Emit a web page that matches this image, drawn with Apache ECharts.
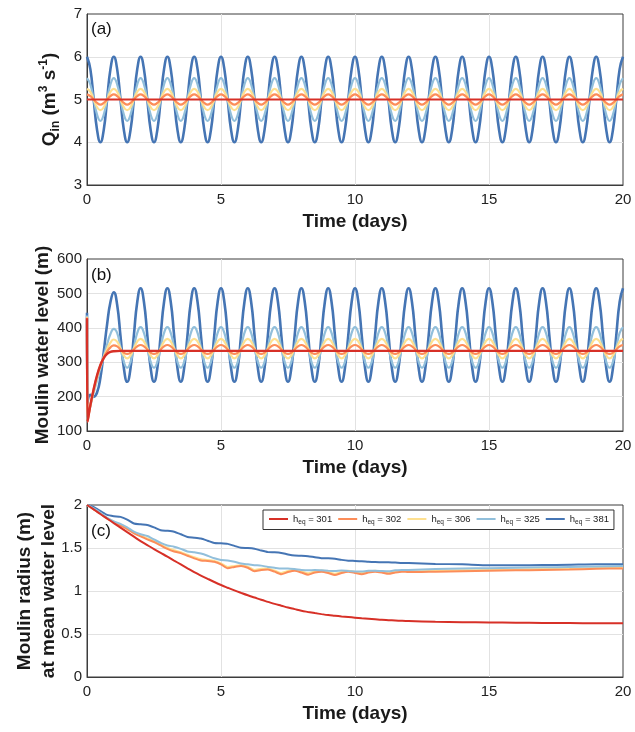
<!DOCTYPE html>
<html>
<head>
<meta charset="utf-8">
<script src="https://cdn.jsdelivr.net/npm/echarts@6/dist/echarts.min.js"></script>
<style>html,body{margin:0;padding:0;background:#fff}#c{width:635px;height:732px}</style>
</head>
<body>
<div id="c"></div>
<script>
// ---------- DATA ----------
// Panel (a): time (days) and inflow Q_in (m3/s)
const tA = [
0,0.125,0.25,0.375,0.5,0.625,0.75,0.875,
1,1.125,1.25,1.375,1.5,1.625,1.75,1.875,
2,2.125,2.25,2.375,2.5,2.625,2.75,2.875,
3,3.125,3.25,3.375,3.5,3.625,3.75,3.875,
4,4.125,4.25,4.375,4.5,4.625,4.75,4.875,
5,5.125,5.25,5.375,5.5,5.625,5.75,5.875,
6,6.125,6.25,6.375,6.5,6.625,6.75,6.875,
7,7.125,7.25,7.375,7.5,7.625,7.75,7.875,
8,8.125,8.25,8.375,8.5,8.625,8.75,8.875,
9,9.125,9.25,9.375,9.5,9.625,9.75,9.875,
10,10.125,10.25,10.375,10.5,10.625,10.75,10.875,
11,11.125,11.25,11.375,11.5,11.625,11.75,11.875,
12,12.125,12.25,12.375,12.5,12.625,12.75,12.875,
13,13.125,13.25,13.375,13.5,13.625,13.75,13.875,
14,14.125,14.25,14.375,14.5,14.625,14.75,14.875,
15,15.125,15.25,15.375,15.5,15.625,15.75,15.875,
16,16.125,16.25,16.375,16.5,16.625,16.75,16.875,
17,17.125,17.25,17.375,17.5,17.625,17.75,17.875,
18,18.125,18.25,18.375,18.5,18.625,18.75,18.875,
19,19.125,19.25,19.375,19.5,19.625,19.75,19.875,
20];
const qDark = [
6,5.71,5,4.29,4,4.29,5,5.71, 6,5.71,5,4.29,4,4.29,5,5.71,
6,5.71,5,4.29,4,4.29,5,5.71, 6,5.71,5,4.29,4,4.29,5,5.71,
6,5.71,5,4.29,4,4.29,5,5.71, 6,5.71,5,4.29,4,4.29,5,5.71,
6,5.71,5,4.29,4,4.29,5,5.71, 6,5.71,5,4.29,4,4.29,5,5.71,
6,5.71,5,4.29,4,4.29,5,5.71, 6,5.71,5,4.29,4,4.29,5,5.71,
6,5.71,5,4.29,4,4.29,5,5.71, 6,5.71,5,4.29,4,4.29,5,5.71,
6,5.71,5,4.29,4,4.29,5,5.71, 6,5.71,5,4.29,4,4.29,5,5.71,
6,5.71,5,4.29,4,4.29,5,5.71, 6,5.71,5,4.29,4,4.29,5,5.71,
6,5.71,5,4.29,4,4.29,5,5.71, 6,5.71,5,4.29,4,4.29,5,5.71,
6,5.71,5,4.29,4,4.29,5,5.71, 6,5.71,5,4.29,4,4.29,5,5.71,
6];
const qLight = [
5.5,5.35,5,4.65,4.5,4.65,5,5.35, 5.5,5.35,5,4.65,4.5,4.65,5,5.35,
5.5,5.35,5,4.65,4.5,4.65,5,5.35, 5.5,5.35,5,4.65,4.5,4.65,5,5.35,
5.5,5.35,5,4.65,4.5,4.65,5,5.35, 5.5,5.35,5,4.65,4.5,4.65,5,5.35,
5.5,5.35,5,4.65,4.5,4.65,5,5.35, 5.5,5.35,5,4.65,4.5,4.65,5,5.35,
5.5,5.35,5,4.65,4.5,4.65,5,5.35, 5.5,5.35,5,4.65,4.5,4.65,5,5.35,
5.5,5.35,5,4.65,4.5,4.65,5,5.35, 5.5,5.35,5,4.65,4.5,4.65,5,5.35,
5.5,5.35,5,4.65,4.5,4.65,5,5.35, 5.5,5.35,5,4.65,4.5,4.65,5,5.35,
5.5,5.35,5,4.65,4.5,4.65,5,5.35, 5.5,5.35,5,4.65,4.5,4.65,5,5.35,
5.5,5.35,5,4.65,4.5,4.65,5,5.35, 5.5,5.35,5,4.65,4.5,4.65,5,5.35,
5.5,5.35,5,4.65,4.5,4.65,5,5.35, 5.5,5.35,5,4.65,4.5,4.65,5,5.35,
5.5];
const qYellow = [
5.25,5.18,5,4.82,4.75,4.82,5,5.18, 5.25,5.18,5,4.82,4.75,4.82,5,5.18,
5.25,5.18,5,4.82,4.75,4.82,5,5.18, 5.25,5.18,5,4.82,4.75,4.82,5,5.18,
5.25,5.18,5,4.82,4.75,4.82,5,5.18, 5.25,5.18,5,4.82,4.75,4.82,5,5.18,
5.25,5.18,5,4.82,4.75,4.82,5,5.18, 5.25,5.18,5,4.82,4.75,4.82,5,5.18,
5.25,5.18,5,4.82,4.75,4.82,5,5.18, 5.25,5.18,5,4.82,4.75,4.82,5,5.18,
5.25,5.18,5,4.82,4.75,4.82,5,5.18, 5.25,5.18,5,4.82,4.75,4.82,5,5.18,
5.25,5.18,5,4.82,4.75,4.82,5,5.18, 5.25,5.18,5,4.82,4.75,4.82,5,5.18,
5.25,5.18,5,4.82,4.75,4.82,5,5.18, 5.25,5.18,5,4.82,4.75,4.82,5,5.18,
5.25,5.18,5,4.82,4.75,4.82,5,5.18, 5.25,5.18,5,4.82,4.75,4.82,5,5.18,
5.25,5.18,5,4.82,4.75,4.82,5,5.18, 5.25,5.18,5,4.82,4.75,4.82,5,5.18,
5.25];
const qOrange = [
5.12,5.08,5,4.92,4.88,4.92,5,5.08, 5.12,5.08,5,4.92,4.88,4.92,5,5.08,
5.12,5.08,5,4.92,4.88,4.92,5,5.08, 5.12,5.08,5,4.92,4.88,4.92,5,5.08,
5.12,5.08,5,4.92,4.88,4.92,5,5.08, 5.12,5.08,5,4.92,4.88,4.92,5,5.08,
5.12,5.08,5,4.92,4.88,4.92,5,5.08, 5.12,5.08,5,4.92,4.88,4.92,5,5.08,
5.12,5.08,5,4.92,4.88,4.92,5,5.08, 5.12,5.08,5,4.92,4.88,4.92,5,5.08,
5.12,5.08,5,4.92,4.88,4.92,5,5.08, 5.12,5.08,5,4.92,4.88,4.92,5,5.08,
5.12,5.08,5,4.92,4.88,4.92,5,5.08, 5.12,5.08,5,4.92,4.88,4.92,5,5.08,
5.12,5.08,5,4.92,4.88,4.92,5,5.08, 5.12,5.08,5,4.92,4.88,4.92,5,5.08,
5.12,5.08,5,4.92,4.88,4.92,5,5.08, 5.12,5.08,5,4.92,4.88,4.92,5,5.08,
5.12,5.08,5,4.92,4.88,4.92,5,5.08, 5.12,5.08,5,4.92,4.88,4.92,5,5.08,
5.12];
const tRedA = [0, 20];
const qRed = [5, 5];

// Panel (b): moulin water level (m)
const tB = [
0,0.02,0.125,0.25,0.375,0.5,0.625,0.75,0.875,
1,1.125,1.25,1.375,1.5,1.625,1.75,1.875,
2,2.125,2.25,2.375,2.5,2.625,2.75,2.875,
3,3.125,3.25,3.375,3.5,3.625,3.75,3.875,
4,4.125,4.25,4.375,4.5,4.625,4.75,4.875,
5,5.125,5.25,5.375,5.5,5.625,5.75,5.875,
6,6.125,6.25,6.375,6.5,6.625,6.75,6.875,
7,7.125,7.25,7.375,7.5,7.625,7.75,7.875,
8,8.125,8.25,8.375,8.5,8.625,8.75,8.875,
9,9.125,9.25,9.375,9.5,9.625,9.75,9.875,
10,10.125,10.25,10.375,10.5,10.625,10.75,10.875,
11,11.125,11.25,11.375,11.5,11.625,11.75,11.875,
12,12.125,12.25,12.375,12.5,12.625,12.75,12.875,
13,13.125,13.25,13.375,13.5,13.625,13.75,13.875,
14,14.125,14.25,14.375,14.5,14.625,14.75,14.875,
15,15.125,15.25,15.375,15.5,15.625,15.75,15.875,
16,16.125,16.25,16.375,16.5,16.625,16.75,16.875,
17,17.125,17.25,17.375,17.5,17.625,17.75,17.875,
18,18.125,18.25,18.375,18.5,18.625,18.75,18.875,
19,19.125,19.25,19.375,19.5,19.625,19.75,19.875,
20];
const hDark = [
444,182,205,200,212,255,330,410,475,
503,467,376,283,243,283,379,475,
515,475,379,283,243,283,379,475, 515,475,379,283,243,283,379,475,
515,475,379,283,243,283,379,475, 515,475,379,283,243,283,379,475,
515,475,379,283,243,283,379,475, 515,475,379,283,243,283,379,475,
515,475,379,283,243,283,379,475, 515,475,379,283,243,283,379,475,
515,475,379,283,243,283,379,475, 515,475,379,283,243,283,379,475,
515,475,379,283,243,283,379,475, 515,475,379,283,243,283,379,475,
515,475,379,283,243,283,379,475, 515,475,379,283,243,283,379,475,
515,475,379,283,243,283,379,475, 515,475,379,283,243,283,379,475,
515,475,379,283,243,283,379,475, 515,475,379,283,243,283,379,475,
515];
const hLight = [
436,135,172,212,248,282,318,352,382,
397,385,343,301,284,301,343,385,
402,385,343,301,284,301,343,385, 402,385,343,301,284,301,343,385,
402,385,343,301,284,301,343,385, 402,385,343,301,284,301,343,385,
402,385,343,301,284,301,343,385, 402,385,343,301,284,301,343,385,
402,385,343,301,284,301,343,385, 402,385,343,301,284,301,343,385,
402,385,343,301,284,301,343,385, 402,385,343,301,284,301,343,385,
402,385,343,301,284,301,343,385, 402,385,343,301,284,301,343,385,
402,385,343,301,284,301,343,385, 402,385,343,301,284,301,343,385,
402,385,343,301,284,301,343,385, 402,385,343,301,284,301,343,385,
402,385,343,301,284,301,343,385, 402,385,343,301,284,301,343,385,
402];
const hYellow = [
432,130,174,218,256,288,315,338,357,
366,360,340,320,311,320,340,360,
368,360,340,320,311,320,340,360, 368,360,340,320,311,320,340,360,
368,360,340,320,311,320,340,360, 368,360,340,320,311,320,340,360,
368,360,340,320,311,320,340,360, 368,360,340,320,311,320,340,360,
368,360,340,320,311,320,340,360, 368,360,340,320,311,320,340,360,
368,360,340,320,311,320,340,360, 368,360,340,320,311,320,340,360,
368,360,340,320,311,320,340,360, 368,360,340,320,311,320,340,360,
368,360,340,320,311,320,340,360, 368,360,340,320,311,320,340,360,
368,360,340,320,311,320,340,360, 368,360,340,320,311,320,340,360,
368,360,340,320,311,320,340,360, 368,360,340,320,311,320,340,360,
368];
const hOrange = [
430,128,175,221,260,291,314,331,343,
349,346,337,328,324,328,337,346,
350,346,337,328,324,328,337,346, 350,346,337,328,324,328,337,346,
350,346,337,328,324,328,337,346, 350,346,337,328,324,328,337,346,
350,346,337,328,324,328,337,346, 350,346,337,328,324,328,337,346,
350,346,337,328,324,328,337,346, 350,346,337,328,324,328,337,346,
350,346,337,328,324,328,337,346, 350,346,337,328,324,328,337,346,
350,346,337,328,324,328,337,346, 350,346,337,328,324,328,337,346,
350,346,337,328,324,328,337,346, 350,346,337,328,324,328,337,346,
350,346,337,328,324,328,337,346, 350,346,337,328,324,328,337,346,
350,346,337,328,324,328,337,346, 350,346,337,328,324,328,337,346,
350];
const tRedB = [0,0.02,0.125,0.25,0.375,0.5,0.625,0.75,0.875,1,1.25,20];
const hRed =  [428,127,175,222,262,292,312,324,330,332,333,333];

// Panel (c): moulin radius at mean water level (m)
const tC = [
0,0.25,0.5,0.75, 1,1.25,1.5,1.75, 2,2.25,2.5,2.75, 3,3.25,3.5,3.75,
4,4.25,4.5,4.75, 5,5.25,5.5,5.75, 6,6.25,6.5,6.75, 7,7.25,7.5,7.75,
8,8.25,8.5,8.75, 9,9.25,9.5,9.75, 10,10.25,10.5,10.75, 11,11.25,11.5,11.75,
12, 13,14,15,16,17,18,19,20];
const rRed = [
2.0,1.95,1.895,1.843, 1.79,1.737,1.684,1.632, 1.58,1.533,1.487,1.443, 1.40,1.354,1.309,1.264,
1.22,1.18,1.142,1.105, 1.07,1.038,1.007,0.978, 0.95,0.924,0.898,0.874, 0.85,0.829,0.808,0.789,
0.77,0.756,0.743,0.731, 0.72,0.712,0.704,0.697, 0.69,0.683,0.677,0.671, 0.665,0.661,0.657,0.653,
0.65, 0.642,0.637,0.634,0.631,0.629,0.627,0.625,0.624];
const rOrange = [
2.0,1.95,1.90,1.84, 1.80,1.76,1.72,1.67, 1.635,1.60,1.57,1.53, 1.49,1.46,1.44,1.41,
1.38,1.355,1.35,1.34, 1.31,1.265,1.28,1.29, 1.27,1.23,1.245,1.25, 1.225,1.195,1.22,1.235,
1.215,1.19,1.215,1.225, 1.21,1.185,1.21,1.225, 1.21,1.195,1.215,1.225, 1.215,1.2,1.215,1.225,
1.22, 1.225,1.23,1.235,1.24,1.245,1.25,1.258,1.263];
const rYellow = [
2.0,1.952,1.905,1.848, 1.806,1.768,1.728,1.68, 1.645,1.612,1.58,1.541, 1.502,1.474,1.452,1.422,
1.392,1.37,1.362,1.35, 1.322,1.28,1.292,1.30, 1.283,1.245,1.258,1.262, 1.238,1.21,1.232,1.246,
1.228,1.205,1.228,1.237, 1.222,1.2,1.222,1.236, 1.222,1.208,1.226,1.236, 1.226,1.212,1.226,1.236,
1.23, 1.235,1.24,1.245,1.25,1.255,1.26,1.266,1.27];
const rLight = [
2.0,1.96,1.91,1.85, 1.81,1.78,1.74,1.69, 1.66,1.64,1.60,1.56, 1.53,1.515,1.49,1.46,
1.45,1.435,1.41,1.38, 1.36,1.355,1.34,1.32, 1.31,1.30,1.295,1.28, 1.27,1.262,1.262,1.255,
1.245,1.24,1.245,1.24, 1.235,1.232,1.238,1.232, 1.228,1.226,1.235,1.235, 1.232,1.23,1.24,1.244,
1.245, 1.255,1.262,1.265,1.27,1.275,1.28,1.285,1.29];
const rDark = [
2.0,1.975,1.93,1.885, 1.87,1.862,1.83,1.785, 1.775,1.768,1.74,1.706, 1.70,1.69,1.66,1.627,
1.62,1.61,1.585,1.558, 1.555,1.548,1.525,1.502, 1.50,1.492,1.47,1.452, 1.45,1.443,1.425,1.412,
1.41,1.405,1.392,1.382, 1.38,1.375,1.362,1.352, 1.35,1.347,1.34,1.336, 1.335,1.333,1.33,1.326,
1.325, 1.315,1.31,1.30,1.30,1.302,1.305,1.31,1.31];

const seriesNames = ['301','302','306','325','381'];
const xTicks = [0,5,10,15,20];

// ---------- CHART ----------
const FONT = '"Liberation Sans", Arial, Helvetica, sans-serif';
const COLORS = {'301':'#d73027','302':'#fc8d59','306':'#fee090','325':'#91bfdb','381':'#4575b4'};
const pairs = (t, v) => t.map((x, i) => [x, v[i]]);

function line(name, gi, t, v, w, smooth) {
  return {
    type: 'line', name: name, xAxisIndex: gi, yAxisIndex: gi,
    data: pairs(t, v), symbol: 'none', showSymbol: false, smooth: smooth,
    lineStyle: { width: w, color: COLORS[name] },
    itemStyle: { color: COLORS[name] },
    emphasis: { disabled: true }, silent: true
  };
}

function xAxis(gi) {
  return {
    type: 'value', gridIndex: gi, min: xTicks[0], max: xTicks[xTicks.length - 1], interval: 5,
    name: 'Time (days)', nameLocation: 'middle', nameGap: 26, nameMoveOverlap: false,
    nameTextStyle: { fontFamily: FONT, fontWeight: 'bold', fontSize: 19, color: '#1a1a1a', lineHeight: 22 },
    axisLine: { show: true, lineStyle: { color: '#3c3c3c', width: 1 } },
    axisTick: { show: false },
    axisLabel: { fontFamily: FONT, fontSize: 15, color: '#222', margin: 7 },
    splitLine: { show: true, showMinLine: false, showMaxLine: false, lineStyle: { color: '#e2e2e2', width: 1 } }
  };
}
function yAxis(gi, min, max, interval, name, gap, rich) {
  return {
    type: 'value', gridIndex: gi, min: min, max: max, interval: interval,
    name: name, nameLocation: 'middle', nameGap: gap, nameRotate: 90, nameMoveOverlap: false,
    nameTextStyle: { fontFamily: FONT, fontWeight: 'bold', fontSize: 19, color: '#1a1a1a', lineHeight: 24, rich: rich },
    axisLine: { show: true, lineStyle: { color: '#3c3c3c', width: 1 } },
    axisTick: { show: false },
    axisLabel: { fontFamily: FONT, fontSize: 15, color: '#222', margin: 5 },
    splitLine: { show: true, showMinLine: false, showMaxLine: false, lineStyle: { color: '#e2e2e2', width: 1 } }
  };
}

const richQ = {
  b:   { fontFamily: FONT, fontWeight: 'bold', fontSize: 19, lineHeight: 24, color: '#1a1a1a' },
  sub: { fontFamily: FONT, fontWeight: 'bold', fontSize: 12, lineHeight: 12, verticalAlign: 'bottom', color: '#1a1a1a' },
  sup: { fontFamily: FONT, fontWeight: 'bold', fontSize: 12, lineHeight: 12, verticalAlign: 'top', color: '#1a1a1a' }
};
const richPlain = {
  b: { fontFamily: FONT, fontWeight: 'bold', fontSize: 19, lineHeight: 24, color: '#1a1a1a' }
};

const gridBase = { left: 87, right: 12, height: 171, show: true, borderColor: '#3c3c3c', borderWidth: 1,
                   backgroundColor: '#fff', containLabel: false, outerBoundsMode: 'none' };

const option = {
  animation: false,
  backgroundColor: '#fff',
  grid: [
    Object.assign({ top: 14 }, gridBase),
    Object.assign({ top: 259 }, gridBase, { height: 172 }),
    Object.assign({ top: 505 }, gridBase, { height: 172 })
  ],
  xAxis: [xAxis(0), xAxis(1), xAxis(2)],
  yAxis: [
    yAxis(0, 3, 7, 1, '{b|Q}{sub|in}{b| (m}{sup|3}{b| s}{sup|-1}{b|)}', 25, richQ),
    yAxis(1, 100, 600, 100, '{b|Moulin water level (m)}', 32, richPlain),
    yAxis(2, 0, 2, 0.5, '{b|Moulin radius (m)}\n{b|at mean water level}', 26, richPlain)
  ],
  legend: {
    data: seriesNames, left: 263, top: 510, orient: 'horizontal',
    itemWidth: 19, itemHeight: 10, itemGap: 5,
    padding: [4, 5, 4, 5], borderColor: '#333', borderWidth: 1, backgroundColor: '#fff',
    selectedMode: false,
    itemStyle: { opacity: 0 },
    formatter: n => '{h|h}{s|eq}{h| = ' + n + '}',
    textStyle: {
      fontFamily: FONT, fontSize: 9.5, color: '#222',
      rich: {
        h: { fontFamily: FONT, fontSize: 9.5, lineHeight: 13, color: '#222' },
        s: { fontFamily: FONT, fontSize: 6.5, lineHeight: 7, verticalAlign: 'bottom', color: '#222' }
      }
    }
  },
  graphic: [
    { type: 'text', left: 91, top: 21, style: { text: '(a)', font: '17px ' + FONT, fill: '#111' }, z: 100 },
    { type: 'text', left: 91, top: 267, style: { text: '(b)', font: '17px ' + FONT, fill: '#111' }, z: 100 },
    { type: 'text', left: 91, top: 523, style: { text: '(c)', font: '17px ' + FONT, fill: '#111' }, z: 100 }
  ],
  series: [
    line('381', 0, tA, qDark, 2.6, 0.5),
    line('325', 0, tA, qLight, 2.2, 0.5),
    line('306', 0, tA, qYellow, 2.2, 0.5),
    line('302', 0, tA, qOrange, 2.2, 0.5),
    line('301', 0, tRedA, qRed, 2.2, false),

    line('381', 1, tB, hDark, 2.6, 0.5),
    line('325', 1, tB, hLight, 2.2, 0.5),
    line('306', 1, tB, hYellow, 2.2, 0.5),
    line('302', 1, tB, hOrange, 2.2, 0.5),
    line('301', 1, tRedB, hRed, 2.4, 0.4),

    line('381', 2, tC, rDark, 2, 0.2),
    line('306', 2, tC, rYellow, 2, 0.2),
    line('302', 2, tC, rOrange, 2, 0.2),
    line('325', 2, tC, rLight, 2, 0.2),
    line('301', 2, tC, rRed, 2, 0.4)
  ]
};

const chart = echarts.init(document.getElementById('c'), null, { renderer: 'canvas' });
chart.setOption(option);
</script>
</body>
</html>
